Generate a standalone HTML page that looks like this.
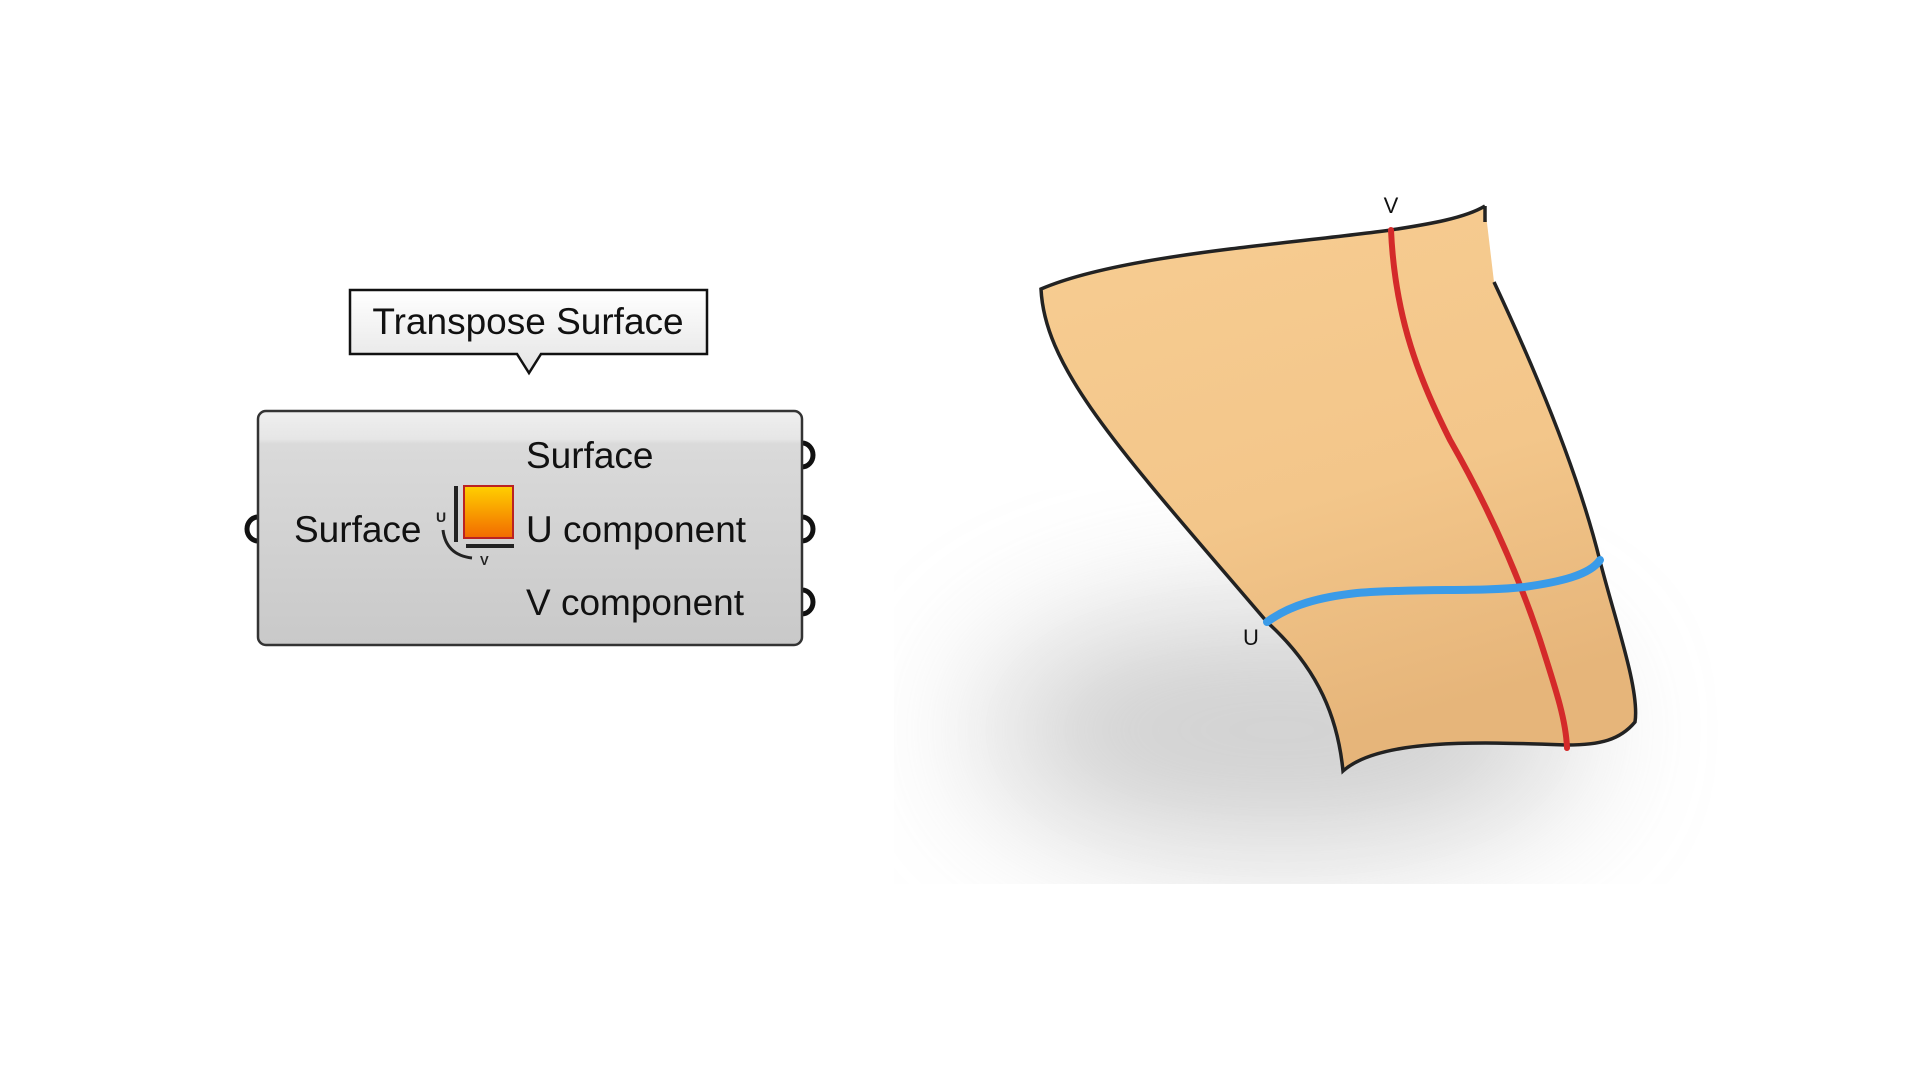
<!DOCTYPE html>
<html><head><meta charset="utf-8"><style>
html,body{margin:0;padding:0;background:#fff;width:1920px;height:1080px;overflow:hidden;font-family:"Liberation Sans",sans-serif;}
</style></head><body>
<svg width="1920" height="1080" viewBox="0 0 1920 1080" xmlns="http://www.w3.org/2000/svg" style="position:absolute;left:0;top:0">
<defs>
<filter id="blur" x="-50%" y="-50%" width="200%" height="200%"><feGaussianBlur stdDeviation="70"/></filter>
<clipPath id="shclip"><rect x="894" y="300" width="944" height="584"/></clipPath>
<linearGradient id="node" x1="0" y1="0" x2="0" y2="1">
<stop offset="0" stop-color="#efefef"/><stop offset="0.12" stop-color="#e6e6e6"/><stop offset="0.14" stop-color="#dadada"/><stop offset="1" stop-color="#c9c9c9"/></linearGradient>
<linearGradient id="tip" x1="0" y1="0" x2="0" y2="1"><stop offset="0" stop-color="#fff"/><stop offset="1" stop-color="#e4e4e4"/></linearGradient>
<linearGradient id="orng" x1="0" y1="0" x2="0" y2="1"><stop offset="0" stop-color="#ffd000"/><stop offset="1" stop-color="#f26a00"/></linearGradient>
<linearGradient id="surf" x1="0" y1="0" x2="0.3" y2="1"><stop offset="0" stop-color="#f7cd92"/><stop offset="0.6" stop-color="#f3c68a"/><stop offset="1" stop-color="#e6b57a"/></linearGradient>
</defs>
<g clip-path="url(#shclip)"><ellipse cx="1280" cy="730" rx="300" ry="120" fill="#a0a0a0" opacity="0.5" filter="url(#blur)"/></g>
<path d="M350,290 H707 V354 H541 L529,373 L517,354 H350 Z" fill="url(#tip)" stroke="#111" stroke-width="2.5"/>
<text x="528" y="334" font-size="37" text-anchor="middle" fill="#111">Transpose Surface</text>
<g fill="none" stroke="#111" stroke-width="5">
<path d="M258,517 A11,12 0 0 0 258,541"/>
<path d="M802,443 A11,12 0 0 1 802,467"/>
<path d="M802,517 A11,12 0 0 1 802,541"/>
<path d="M802,590 A11,12 0 0 1 802,614"/>
</g>
<rect x="258" y="411" width="544" height="234" rx="8" fill="url(#node)" stroke="#333" stroke-width="2.5"/>
<g font-size="37" fill="#111">
<text x="294" y="542">Surface</text>
<text x="526" y="468">Surface</text>
<text x="526" y="542">U component</text>
<text x="526" y="615">V component</text>
</g>
<rect x="464" y="486" width="49" height="52" fill="url(#orng)" stroke="#b22" stroke-width="2"/>
<rect x="454" y="486" width="4" height="56" fill="#222"/>
<rect x="466" y="544" width="48" height="4" fill="#222"/>
<text x="436" y="522" font-size="14" font-weight="bold" fill="#222">U</text>
<path d="M443,530 Q446,555 472,558" fill="none" stroke="#222" stroke-width="3"/>
<text x="480" y="565" font-size="13" font-weight="bold" fill="#222">V</text>
<!-- surface -->
<path d="M1041,289 C1120,255 1280,245 1391,230 C1430,224 1465,218 1485,206 L1494,282 C1540,380 1580,480 1600,561 C1615,620 1640,690 1635,722 C1620,740 1600,745 1567,745 C1480,742 1380,738 1343,771 C1338,720 1320,670 1267,622 C1120,450 1045,370 1041,289 Z" fill="url(#surf)"/>
<path d="M1485,206 L1485,222 M1494,282 C1540,380 1580,480 1600,561 C1615,620 1640,690 1635,722 C1620,740 1600,745 1567,745 C1480,742 1380,738 1343,771 C1338,720 1320,670 1267,622 C1120,450 1045,370 1041,289 C1120,255 1280,245 1391,230 C1430,224 1465,218 1485,206" fill="none" stroke="#222" stroke-width="3.5"/>
<path d="M1391,230 C1395,320 1420,380 1450,440 C1490,510 1520,580 1540,640 C1556,690 1566,720 1567,748" fill="none" stroke="#d42a2a" stroke-width="6" stroke-linecap="round"/>
<path d="M1267,622 C1290,605 1320,597 1357,593 C1420,588 1480,592 1524,587 C1560,582 1590,575 1600,560" fill="none" stroke="#3a9be8" stroke-width="8" stroke-linecap="round"/>
<text x="1391" y="213" font-size="22" text-anchor="middle" fill="#111">V</text>
<text x="1251" y="645" font-size="22" text-anchor="middle" fill="#111">U</text>
</svg>
</body></html>
